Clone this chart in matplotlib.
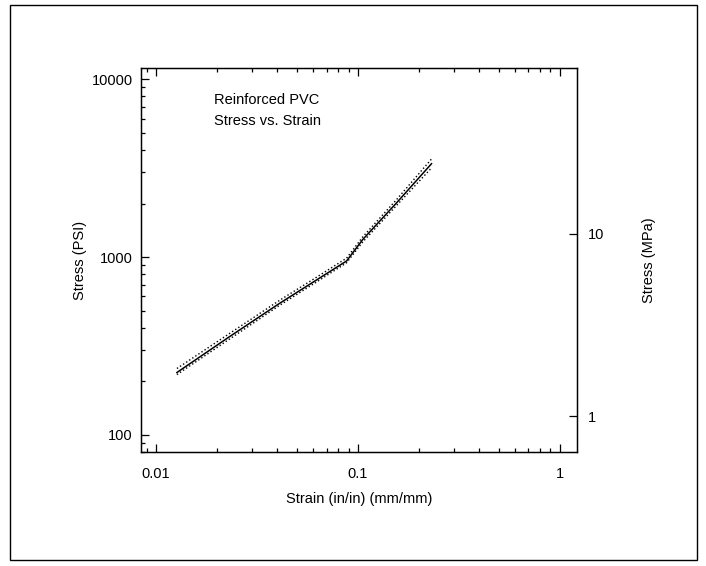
import numpy as np
import matplotlib.pyplot as plt
from matplotlib.patches import Rectangle
from matplotlib.ticker import LogLocator, FixedLocator, NullFormatter

plt.rcParams['font.family'] = ['Liberation Sans', 'DejaVu Sans']

# strain (in/in) and stress (psi)
strain = [0.0127, 0.0232, 0.0411, 0.0625, 0.088, 0.106, 0.156, 0.232]
stress = [224, 357, 550, 743, 950, 1257, 2022, 3350]
stress_hi = [236, 372, 572, 770, 985, 1300, 2110, 3560]
stress_lo = [218, 346, 536, 724, 928, 1218, 1955, 3170]

x_ticks = [0.01, 0.1, 1]
x_labels = ['0.01', '0.1', '1']
psi_ticks = [100, 1000, 10000]
mpa_ticks = [1, 10]

fig = plt.figure(figsize=(7.06, 5.66), dpi=100)
W, H = 706., 566.
# plot box in pixels: left 141, right 577, top 68, bottom 452
ax = fig.add_axes([141/W, 1-452/H, (577-141)/W, (452-68)/H])

ax.plot(strain, stress, '-', color='black', lw=1.1)
ax.plot(strain, stress_hi, ':', color='black', lw=1.0)
ax.plot(strain, stress_lo, ':', color='black', lw=1.0)

ax.set_xscale('log')
ax.set_yscale('log')
ax.set_xlim(0.00843, 1.22)
ax.set_ylim(80, 11570)

ax.xaxis.set_major_locator(FixedLocator(x_ticks))
ax.set_xticklabels(x_labels)
ax.xaxis.set_minor_locator(LogLocator(base=10, subs=np.arange(2, 10)))
ax.xaxis.set_minor_formatter(NullFormatter())
ax.yaxis.set_major_locator(FixedLocator(psi_ticks))
ax.set_yticklabels([str(v) for v in psi_ticks])
ax.yaxis.set_minor_locator(LogLocator(base=10, subs=np.arange(2, 10)))
ax.yaxis.set_minor_formatter(NullFormatter())

ax.tick_params(which='both', direction='in', top=True, labelsize=10.5, width=0.9)
ax.tick_params(which='major', length=6)
ax.tick_params(axis='x', which='major', pad=11)
ax.tick_params(axis='y', which='major', pad=6)
ax.tick_params(which='minor', length=3)

for s in ax.spines.values():
    s.set_linewidth(1.0)

ax.set_xlabel('Strain (in/in) (mm/mm)', fontsize=10.5, labelpad=8)
ax.set_ylabel('Stress (PSI)', fontsize=10.5, labelpad=3)

# MPa scale on the right
ax2 = ax.twinx()
ax2.set_yscale('log')
ax2.set_ylim(0.638, 81.1)
ax2.yaxis.set_major_locator(FixedLocator(mpa_ticks))
ax2.set_yticklabels([str(v) for v in mpa_ticks])
ax2.yaxis.set_minor_locator(FixedLocator([]))
ax2.tick_params(which='major', direction='in', length=6, width=0.9, labelsize=10.5, pad=8)
ax2.set_ylabel('Stress (MPa)', fontsize=10.5, labelpad=27)

ax.text(0.168, 0.935, 'Reinforced PVC\nStress vs. Strain', transform=ax.transAxes,
        fontsize=10.5, va='top', ha='left', linespacing=1.6)

# outer frame of the scanned figure
fig.patches.append(Rectangle((10/W, 1-560/H), (697-10)/W, (560-5)/H,
                             transform=fig.transFigure, fill=False,
                             edgecolor='black', lw=1.0))

fig.savefig('out.png', dpi=100)
